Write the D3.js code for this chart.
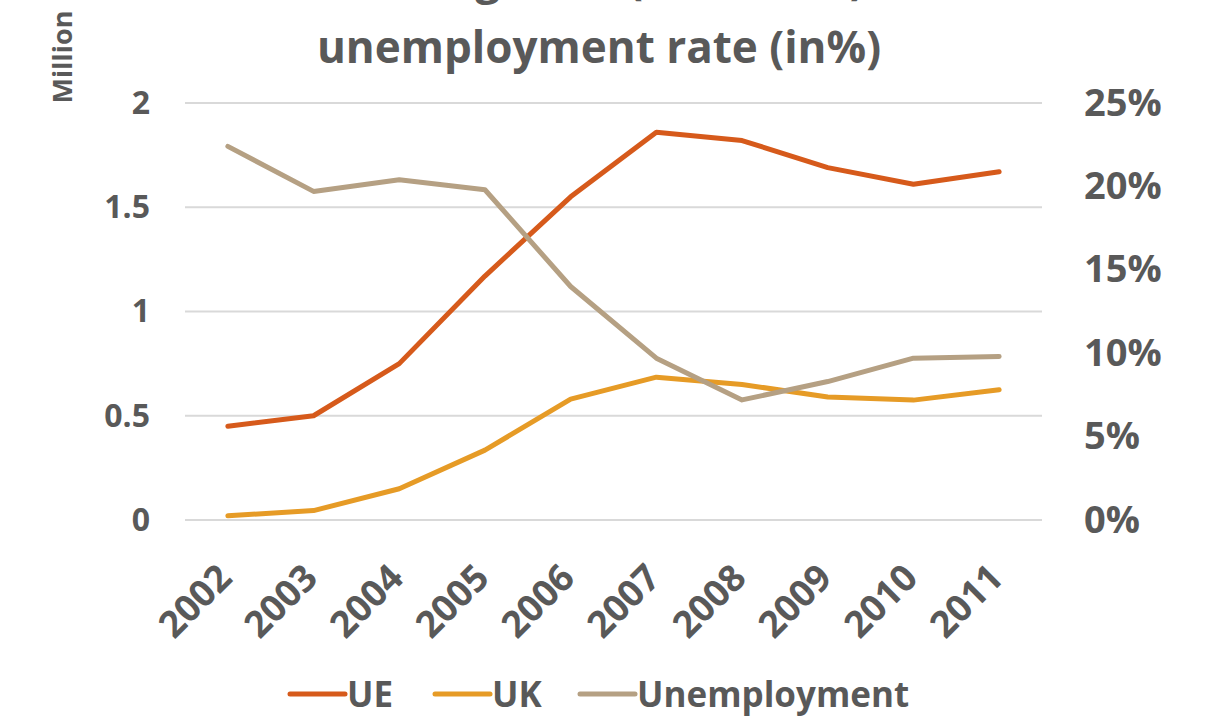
<!DOCTYPE html>
<html><head><meta charset="utf-8">
<script src="https://cdn.jsdelivr.net/npm/d3@7"></script>
<style>
body{margin:0;background:#fff;}
svg text{font-family:"Open Sans","Noto Sans",sans-serif;font-weight:700;fill:#595959;}
</style></head>
<body><svg id="c" width="1205" height="725"></svg>
<script>
const years = ["2002","2003","2004","2005","2006","2007","2008","2009","2010","2011"];
const ue = [0.45,0.50,0.75,1.17,1.55,1.86,1.82,1.69,1.61,1.67];
const uk = [0.02,0.045,0.15,0.335,0.58,0.685,0.65,0.59,0.575,0.625];
const unemployment = [22.4,19.7,20.4,19.8,14.0,9.7,7.2,8.3,9.7,9.8];
const leftTicks = [0,0.5,1,1.5,2];
const rightTicks = [0,5,10,15,20,25];
const seriesNames = ["UE","UK","Unemployment"];
const colors = ["#D65A1B","#E69B26","#B5A083"];
const titleLines = ["Romanian emigrants (in million) and the","unemployment rate (in%)"];

const svg = d3.select("#c");
const L=185,R=1042,T=103,B=520;
const x = d3.scaleBand().domain(years).range([L,R]);
const yL = d3.scaleLinear().domain([0,2]).range([B,T]);
const yR = d3.scaleLinear().domain([0,25]).range([B,T]);

// gridlines
svg.append("g").selectAll("line").data(leftTicks).join("line")
  .attr("x1",L).attr("x2",R).attr("y1",d=>yL(d)).attr("y2",d=>yL(d))
  .attr("stroke","#D9D9D9").attr("stroke-width",2);

// left axis
const gl = svg.append("g").attr("transform",`translate(${L},0)`)
  .call(d3.axisLeft(yL).tickValues(leftTicks).tickSize(0).tickPadding(35).tickFormat(d=>String(d)));
gl.select(".domain").remove();
gl.selectAll("text").style("font-size","32px").attr("fill","#595959");

// right axis
const gr = svg.append("g").attr("transform",`translate(${R},0)`)
  .call(d3.axisRight(yR).tickValues(rightTicks).tickSize(0).tickPadding(42).tickFormat(d=>d+"%"));
gr.select(".domain").remove();
gr.selectAll("text").style("font-size","38px").attr("fill","#595959");

// x axis
const gx = svg.append("g").attr("transform",`translate(0,${B})`)
  .call(d3.axisBottom(x).tickSize(0).tickPadding(0));
gx.select(".domain").remove();
gx.selectAll("text").style("font-size","37px").attr("fill","#595959")
  .attr("text-anchor","end").attr("dy","0.35em")
  .attr("transform","translate(-3,51) rotate(-45)");

// lines
const cx = d => x(d)+x.bandwidth()/2;
const lineL = d3.line().x((d,i)=>cx(years[i])).y(d=>yL(d));
const lineR = d3.line().x((d,i)=>cx(years[i])).y(d=>yR(d));
const paths = [[ue,lineL],[uk,lineL],[unemployment,lineR]];
paths.forEach(([data,gen],i)=>{
  svg.append("path").datum(data).attr("d",gen).attr("fill","none")
    .attr("stroke",colors[i]).attr("stroke-width",5).attr("stroke-linecap","round").attr("stroke-linejoin","round");
});

// axis title
svg.append("text").attr("transform","translate(72,57) rotate(-90)")
  .attr("text-anchor","middle").style("font-size","27px").text("Million");

// title
svg.append("text").attr("x",599).attr("y",63).attr("text-anchor","middle").style("font-size","44px").text(titleLines[1]);
const t1 = svg.append("text").attr("x",0).attr("y",-6).style("font-size","44px").text(titleLines[0]);
const pIdx = titleLines[0].indexOf("(");
const px = t1.node().getStartPositionOfChar(pIdx).x;
t1.attr("x", 628 - px);

// legend
const legX = [290,435,580];
const lg = svg.append("g");
seriesNames.forEach((n,i)=>{
  lg.append("line").attr("x1",legX[i]).attr("x2",legX[i]+55).attr("y1",694).attr("y2",694)
    .attr("stroke",colors[i]).attr("stroke-width",5).attr("stroke-linecap","round");
  lg.append("text").attr("x",legX[i]+57).attr("y",707).style("font-size","35px").text(n);
});
</script></body></html>
